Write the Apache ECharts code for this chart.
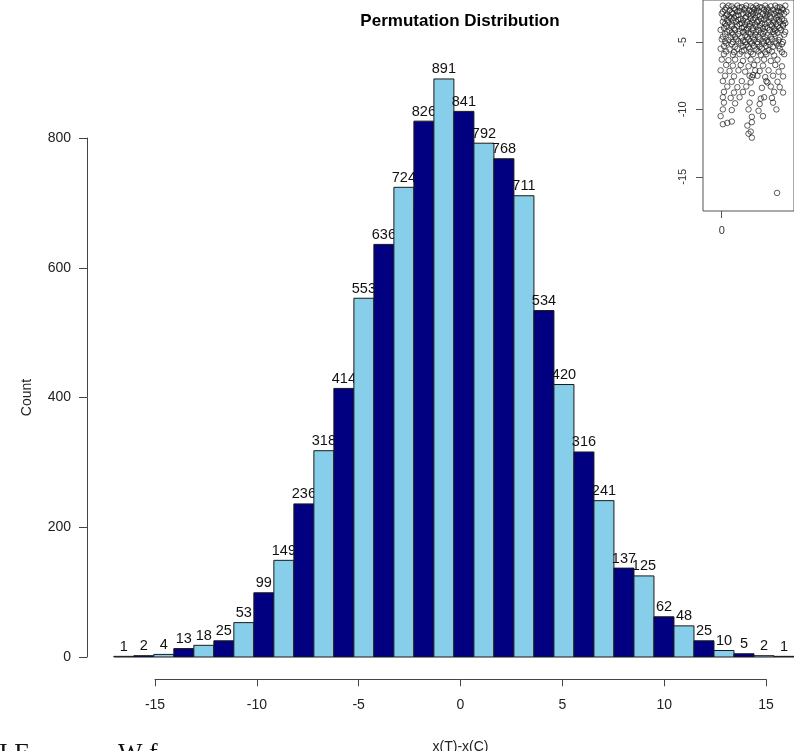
<!DOCTYPE html>
<html>
<head>
<meta charset="utf-8">
<script src="https://cdn.jsdelivr.net/npm/echarts@6/dist/echarts.min.js"></script>
<style>
  html, body { margin: 0; padding: 0; background: #fff; }
  #main { width: 794px; height: 751px; }
</style>
</head>
<body>
<div id="main"></div>
<script>
// histogram bins (left edge of each unit-width bin) and counts
var binStart = [-17, -16, -15, -14, -13, -12, -11, -10, -9, -8, -7, -6, -5, -4, -3, -2, -1,
                0, 1, 2, 3, 4, 5, 6, 7, 8, 9, 10, 11, 12, 13, 14, 15, 16];
var counts = [1, 2, 4, 13, 18, 25, 53, 99, 149, 236, 318, 414, 553, 636, 724, 826, 891,
              841, 792, 768, 711, 534, 420, 316, 241, 137, 125, 62, 48, 25, 10, 5, 2, 1];
var xTicks = [-15, -10, -5, 0, 5, 10, 15];
var yTicks = [0, 200, 400, 600, 800];

// inset scatter (top right, partly cut off in the picture)
var insetYTicks = [-15, -10, -5];
var insetXTicks = [0];
var insetPoints = [
  [0.05,-2.3],[0.3,-2.3],[0.45,-2.35],[0.7,-2.3],[0.9,-2.4],[1.1,-2.3],[1.3,-2.35],[1.55,-2.3],[1.7,-2.4],[1.95,-2.3],[2.2,-2.35],[2.4,-2.3],[2.6,-2.4],[2.85,-2.3],
  [0.2,-2.45],[0.55,-2.5],[0.8,-2.45],[1.05,-2.5],[1.4,-2.45],[1.6,-2.5],[1.8,-2.45],[2.05,-2.5],[2.5,-2.45],[2.7,-2.5],
  [0.15,-2.6],[0.35,-2.65],[0.6,-2.6],[0.8,-2.7],[1.0,-2.6],[1.25,-2.65],[1.45,-2.6],[1.65,-2.7],[1.9,-2.6],[2.1,-2.65],[2.3,-2.6],[2.55,-2.7],[2.75,-2.6],
  [0.05,-2.75],[0.45,-2.8],[0.7,-2.75],[1.1,-2.8],[1.35,-2.75],[1.55,-2.8],[2.0,-2.75],[2.2,-2.8],[2.45,-2.75],[2.65,-2.8],[2.9,-2.75],
  [0.0,-2.9],[0.25,-2.95],[0.5,-2.9],[0.75,-3.0],[0.95,-2.9],[1.2,-2.95],[1.4,-2.9],[1.6,-3.0],[1.85,-2.9],[2.05,-2.95],[2.35,-2.9],[2.5,-3.0],[2.8,-2.9],
  [0.2,-3.05],[0.35,-3.1],[0.65,-3.05],[1.1,-3.1],[1.3,-3.05],[1.7,-3.1],[1.95,-3.05],[2.15,-3.1],[2.6,-3.05],
  [0.1,-3.2],[0.4,-3.25],[0.55,-3.2],[0.85,-3.3],[1.05,-3.2],[1.3,-3.25],[1.5,-3.2],[1.75,-3.3],[2.0,-3.2],[2.2,-3.25],[2.45,-3.2],[2.7,-3.3],
  [0.25,-3.35],[0.5,-3.4],[0.75,-3.35],[0.95,-3.4],[1.4,-3.35],[1.65,-3.4],[1.9,-3.35],[2.35,-3.4],[2.55,-3.35],[2.8,-3.4],
  [0.05,-3.5],[0.3,-3.55],[0.65,-3.5],[0.9,-3.6],[1.15,-3.5],[1.35,-3.55],[1.6,-3.5],[1.8,-3.6],[2.1,-3.5],[2.3,-3.55],[2.6,-3.5],[2.85,-3.6],
  [0.15,-3.65],[0.45,-3.7],[0.8,-3.65],[1.05,-3.7],[1.25,-3.65],[1.5,-3.7],[1.95,-3.65],[2.2,-3.7],[2.45,-3.65],[2.75,-3.7],
  [0.2,-3.8],[0.45,-3.85],[0.7,-3.8],[1.0,-3.9],[1.25,-3.8],[1.55,-3.85],[1.7,-3.8],[1.95,-3.9],[2.25,-3.8],[2.5,-3.85],[2.75,-3.8],
  [0.1,-3.95],[0.55,-4.0],[0.9,-3.95],[1.15,-4.0],[1.4,-3.95],[1.85,-4.0],[2.05,-3.95],[2.35,-4.0],[2.6,-3.95],
  [-0.05,-4.1],[0.35,-4.15],[0.6,-4.1],[0.8,-4.2],[1.1,-4.1],[1.4,-4.15],[1.65,-4.1],[1.9,-4.2],[2.15,-4.1],[2.4,-4.15],[2.65,-4.1],
  [0.25,-4.25],[0.45,-4.3],[0.95,-4.25],[1.2,-4.3],[1.55,-4.25],[1.75,-4.3],[2.3,-4.25],[2.5,-4.3],[2.85,-4.25],
  [0.15,-4.4],[0.5,-4.45],[0.75,-4.4],[1.05,-4.5],[1.3,-4.4],[1.5,-4.45],[1.85,-4.4],[2.05,-4.5],[2.35,-4.4],[2.8,-4.45],
  [0.05,-4.6],[0.4,-4.65],[0.6,-4.6],[0.9,-4.65],[1.15,-4.6],[1.4,-4.65],[1.65,-4.6],[1.95,-4.65],[2.2,-4.6],[2.6,-4.65],
  [0.0,-4.8],[0.3,-4.85],[0.65,-4.8],[0.95,-4.9],[1.2,-4.8],[1.45,-4.85],[1.7,-4.8],[2.0,-4.9],[2.25,-4.8],[2.55,-4.85],
  [0.15,-4.95],[0.5,-5.0],[0.75,-4.95],[1.05,-5.0],[1.3,-4.95],[1.6,-5.0],[1.85,-4.95],[2.1,-5.0],[2.4,-4.95],[2.75,-5.0],
  [0.2,-5.1],[0.45,-5.15],[0.85,-5.1],[1.1,-5.2],[1.35,-5.1],[1.6,-5.15],[1.9,-5.1],[2.15,-5.2],[2.45,-5.1],[2.7,-5.15],
  [0.1,-5.3],[0.6,-5.35],[0.95,-5.3],[1.2,-5.35],[1.45,-5.3],[1.7,-5.35],[2.0,-5.3],[2.3,-5.35],[2.55,-5.3],
  [-0.05,-5.5],[0.35,-5.55],[0.7,-5.5],[1.0,-5.6],[1.25,-5.5],[1.55,-5.55],[1.8,-5.5],[2.1,-5.6],[2.6,-5.5],
  [0.2,-5.7],[0.55,-5.75],[0.9,-5.7],[1.3,-5.75],[1.65,-5.7],[1.95,-5.75],[2.25,-5.7],[2.7,-5.75],
  [0.1,-5.9],[0.5,-5.95],[0.8,-5.9],[1.15,-6.0],[1.4,-5.9],[1.75,-5.95],[2.0,-5.9],[2.35,-6.0],[2.8,-5.9],
  [0.0,-6.3],[0.3,-6.35],[0.6,-6.3],[0.95,-6.4],[1.3,-6.3],[1.6,-6.35],[1.9,-6.3],[2.2,-6.4],[2.5,-6.3],
  [0.2,-6.7],[0.5,-6.75],[0.85,-6.7],[1.2,-6.8],[1.45,-6.7],[1.85,-6.75],[2.4,-6.7],[2.7,-6.8],
  [-0.05,-7.1],[0.35,-7.15],[0.75,-7.1],[1.05,-7.2],[1.5,-7.1],[1.7,-7.15],[2.1,-7.1],[2.55,-7.2],
  [0.15,-7.5],[0.55,-7.55],[1.25,-7.5],[1.35,-7.6],[1.4,-7.45],[1.6,-7.5],[1.95,-7.6],[2.3,-7.5],[2.75,-7.55],
  [0.05,-7.9],[0.45,-7.95],[0.9,-7.9],[1.3,-8.0],[2.0,-7.9],[2.05,-8.0],[2.5,-7.95],
  [0.25,-8.3],[0.7,-8.35],[1.1,-8.3],[1.8,-8.4],[2.2,-8.3],[2.6,-8.35],
  [0.1,-8.7],[0.55,-8.75],[0.95,-8.7],[1.35,-8.8],[2.35,-8.7],[2.75,-8.75],
  [0.05,-9.1],[0.4,-9.15],[0.8,-9.1],[1.75,-9.2],[1.9,-9.1],[2.25,-9.15],
  [0.1,-9.5],[0.6,-9.55],[1.25,-9.5],[1.7,-9.6],[2.3,-9.5],
  [0.05,-10.0],[0.45,-10.05],[1.2,-10.0],[1.65,-10.1],[2.45,-10.0],
  [-0.05,-10.5],[1.35,-10.55],[1.85,-10.5],
  [0.05,-11.1],[0.25,-11.0],[0.45,-10.9],[1.15,-11.2],[1.35,-10.95],
  [1.2,-11.8],[1.3,-11.65],
  [1.35,-12.1],
  [2.48,-16.2]
];

var barColors = ['#87CEEB', '#000080'];

var chart = echarts.init(document.getElementById('main'));

var histData = binStart.map(function (b, i) { return [b, counts[i]]; });

var option = {
  backgroundColor: '#fff',
  animation: false,
  textStyle: { fontFamily: 'Liberation Sans' },
  grid: [
    // bars
    { left: 87, right: -13, top: 8.25, bottom: 94 },
    // x axis drawn R-style, offset below the bars
    { left: 155, right: 28, top: 679, height: 1 },
    // y axis from 0 to 800 only
    { left: 87, width: 1, top: 138, bottom: 94 },
    // inset scatter plot
    { left: 703, right: -10, top: -5, bottom: 540, show: true,
      backgroundColor: '#fff', borderColor: '#555', borderWidth: 1 }
  ],
  xAxis: [
    { gridIndex: 0, type: 'value', min: -18.34, max: 17, show: false },
    { gridIndex: 1, type: 'value', min: -15, max: 15, interval: 5,
      axisLine: { show: true, onZero: false, lineStyle: { color: '#444' } },
      axisTick: { show: true, length: 7, lineStyle: { color: '#444' } },
      axisLabel: { margin: 19, fontSize: 14, color: '#222',
        customValues: xTicks },
      splitLine: { show: false },
      name: 'x(T)-x(C)', nameLocation: 'middle', nameGap: 61,
      nameTextStyle: { fontSize: 14, color: '#222' } },
    { gridIndex: 2, type: 'value', show: false },
    { gridIndex: 3, type: 'value', min: -0.84, max: 3.24,
      axisLine: { show: false, onZero: false },
      axisTick: { show: true, length: 7, customValues: insetXTicks, lineStyle: { color: '#555' } },
      axisLabel: { margin: 14, fontSize: 11, color: '#333', customValues: insetXTicks },
      splitLine: { show: false } }
  ],
  yAxis: [
    { gridIndex: 0, type: 'value', min: 0, max: 1000, show: false },
    { gridIndex: 1, type: 'value', show: false },
    { gridIndex: 2, type: 'value', min: 0, max: 800, interval: 200,
      axisLine: { show: true, onZero: false, lineStyle: { color: '#444' } },
      axisTick: { show: true, length: 8, lineStyle: { color: '#444' } },
      axisLabel: { margin: 16, fontSize: 14, color: '#222', customValues: yTicks },
      splitLine: { show: false },
      name: 'Count', nameLocation: 'middle', nameGap: 53, nameRotate: 90,
      nameTextStyle: { fontSize: 14, color: '#222' } },
    { gridIndex: 3, type: 'value', min: -17.54, max: -1.88,
      axisLine: { show: false, onZero: false },
      axisTick: { show: true, length: 7, customValues: insetYTicks, lineStyle: { color: '#555' } },
      axisLabel: { margin: 15, fontSize: 11, color: '#333', rotate: 90,
        customValues: insetYTicks },
      splitLine: { show: false } }
  ],
  series: [
    {
      type: 'custom',
      xAxisIndex: 0,
      yAxisIndex: 0,
      data: histData,
      renderItem: function (params, api) {
        var x0 = api.value(0);
        var v = api.value(1);
        var p0 = api.coord([x0, 0]);
        var p1 = api.coord([x0 + 1, v]);
        return {
          type: 'group',
          children: [
            { type: 'rect',
              shape: { x: p0[0], y: p1[1], width: p1[0] - p0[0], height: p0[1] - p1[1] },
              style: { fill: barColors[params.dataIndex % 2], stroke: '#1a1a1a', lineWidth: 1 } },
            { type: 'text',
              style: { text: String(v), x: (p0[0] + p1[0]) / 2, y: p1[1] - 2,
                align: 'center', verticalAlign: 'bottom',
                fontSize: 14.5, fontFamily: 'Liberation Sans', fill: '#111' } }
          ]
        };
      }
    },
    {
      type: 'scatter',
      xAxisIndex: 3,
      yAxisIndex: 3,
      data: insetPoints,
      symbol: 'circle',
      symbolSize: 5.5,
      itemStyle: { color: 'rgba(0,0,0,0)', borderColor: '#222', borderWidth: 0.9 }
    }
  ],
  graphic: [
    { type: 'text', x: 460, y: 21,
      style: { text: 'Permutation Distribution', align: 'center', verticalAlign: 'middle',
        fontSize: 17, fontWeight: 'bold', fontFamily: 'Liberation Sans', fill: '#000' } },
    { type: 'text', x: -1, y: 741,
      style: { text: 'I E', fontSize: 26, fontFamily: 'Liberation Serif', fill: '#111' } },
    { type: 'text', x: 118, y: 741,
      style: { text: 'W f', fontSize: 26, fontFamily: 'Liberation Serif', fill: '#111' } }
  ]
};

chart.setOption(option);
</script>
</body>
</html>
